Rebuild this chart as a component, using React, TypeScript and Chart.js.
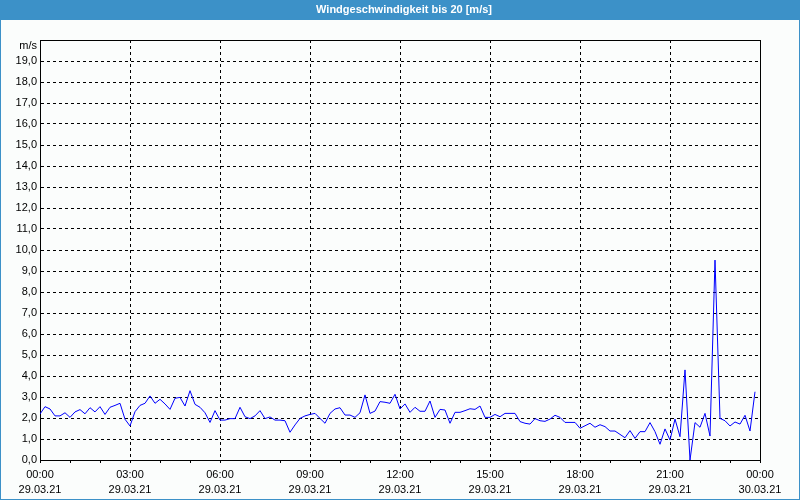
import React, { useEffect, useRef } from 'react';
import { Chart, registerables } from 'chart.js';

Chart.register(...registerables);

const AXIS_FONT = "'Liberation Sans Narrow', 'Liberation Sans', sans-serif";
const TITLE_FONT = "'Liberation Sans', sans-serif";

const chartTitle = 'Windgeschwindigkeit bis 20 [m/s]';
const unitLabel = 'm/s';
const intervalMinutes = 10;

// Wind speed in m/s, one value every 10 minutes from 29.03.21 00:00 to 23:50
const windSpeed = [
  2.19, 2.54, 2.43, 2.1, 2.1, 2.25, 2.03, 2.29, 2.4, 2.2, 2.49, 2.29,
  2.54, 2.17, 2.51, 2.6, 2.7, 1.94, 1.62, 2.3, 2.6, 2.7, 3.05, 2.7,
  2.89, 2.67, 2.41, 2.94, 2.98, 2.57, 3.3, 2.65, 2.51, 2.25, 1.79, 2.35,
  1.9, 1.9, 1.97, 1.97, 2.51, 2.06, 1.97, 2.1, 2.35, 1.97, 2.05, 1.9,
  1.9, 1.87, 1.32, 1.67, 1.98, 2.1, 2.17, 2.22, 1.98, 1.75, 2.22, 2.43,
  2.49, 2.14, 2.14, 2.03, 2.25, 3.1, 2.22, 2.33, 2.78, 2.75, 2.7, 3.13,
  2.43, 2.67, 2.27, 2.51, 2.32, 2.32, 2.81, 2.03, 2.41, 2.38, 1.75, 2.27,
  2.27, 2.35, 2.44, 2.41, 2.57, 2.03, 2.03, 2.17, 2.06, 2.22, 2.22, 2.22,
  1.83, 1.75, 1.71, 1.97, 1.87, 1.84, 1.95, 2.13, 2.03, 1.79, 1.79, 1.79,
  1.51, 1.63, 1.75, 1.56, 1.68, 1.59, 1.38, 1.38, 1.22, 1.06, 1.4, 1.03,
  1.35, 1.35, 1.78, 1.35, 0.75, 1.48, 0.95, 1.95, 1.11, 4.29, 0.0, 1.78,
  1.56, 2.22, 1.14, 9.52, 1.98, 1.87, 1.62, 1.81, 1.71, 2.13, 1.38, 3.25,
];

const timeLabels = ['00:00', '03:00', '06:00', '09:00', '12:00', '15:00', '18:00', '21:00', '00:00'];
const dateLabels = ['29.03.21', '29.03.21', '29.03.21', '29.03.21', '29.03.21', '29.03.21', '29.03.21', '29.03.21', '30.03.21'];
const labelEveryMinutes = 180;
const minorTickMinutes = 60;
const xMinMinutes = 0;
const xMaxMinutes = 1440;
const yMin = 0;
const yMax = 20;
const yStep = 1;

export default function App() {
  const ref = useRef<HTMLCanvasElement>(null);

  useEffect(() => {
    document.body.style.margin = '0';
    const canvas = ref.current;
    if (!canvas) return;

    const framePlugin = {
      id: 'frame',
      beforeDraw(chart: any) {
        const ctx = chart.ctx as CanvasRenderingContext2D;
        const w = chart.width;
        const h = chart.height;
        ctx.save();
        ctx.fillStyle = '#fbfdfc';
        ctx.fillRect(0, 0, w, h);
        ctx.fillStyle = '#3c91c8';
        ctx.fillRect(0, 0, w, 20);
        ctx.strokeStyle = '#3c91c8';
        ctx.lineWidth = 1;
        ctx.strokeRect(0.5, 0.5, w - 1, h - 1);
        ctx.fillStyle = '#ffffff';
        ctx.font = `bold 11px ${TITLE_FONT}`;
        ctx.textAlign = 'center';
        ctx.textBaseline = 'middle';
        ctx.fillText(chartTitle, w / 2 + 4, 10);
        ctx.restore();
      },
      afterDraw(chart: any) {
        const ctx = chart.ctx as CanvasRenderingContext2D;
        const { left, right, top, bottom } = chart.chartArea;
        ctx.save();
        ctx.strokeStyle = '#000000';
        ctx.lineWidth = 1;
        ctx.setLineDash([]);
        ctx.beginPath();
        ctx.moveTo(Math.round(left), Math.round(top) + 0.5);
        ctx.lineTo(Math.round(right) + 1, Math.round(top) + 0.5);
        ctx.moveTo(Math.round(right) + 0.5, Math.round(top));
        ctx.lineTo(Math.round(right) + 0.5, Math.round(bottom) + 1);
        ctx.stroke();
        ctx.fillStyle = '#000000';
        ctx.font = `11px ${AXIS_FONT}`;
        ctx.textAlign = 'right';
        ctx.textBaseline = 'middle';
        ctx.fillText(unitLabel, Math.round(left) - 3, Math.round(top) + 6);
        ctx.restore();
      },
    };

    const chart = new Chart(canvas, {
      type: 'line',
      data: {
        datasets: [
          {
            data: windSpeed.map((v, i) => ({ x: i * intervalMinutes, y: v })),
            borderColor: '#0000ff',
            borderWidth: 1,
            pointRadius: 0,
            tension: 0,
            fill: false,
          },
        ],
      },
      options: {
        animation: false,
        responsive: false,
        devicePixelRatio: 1,
        events: [],
        layout: { padding: { top: 40, right: 40, left: 0, bottom: 0 } },
        plugins: {
          legend: { display: false },
          title: { display: false },
          tooltip: { enabled: false },
        },
        scales: {
          x: {
            type: 'linear',
            min: xMinMinutes,
            max: xMaxMinutes,
            afterFit(scale: any) {
              scale.height = 40;
            },
            border: { display: true, color: '#000000', width: 1, dash: [3, 3] },
            grid: {
              color: (c: any) => {
                const v = c.tick ? c.tick.value : -1;
                return v % labelEveryMinutes === 0 && v > xMinMinutes && v < xMaxMinutes ? '#000000' : 'rgba(0,0,0,0)';
              },
              lineWidth: 1,
              drawTicks: true,
              tickLength: 3,
              tickColor: '#000000',
              tickBorderDash: [],
            },
            ticks: {
              stepSize: minorTickMinutes,
              autoSkip: false,
              maxRotation: 0,
              minRotation: 0,
              padding: 5,
              color: '#000000',
              font: { family: AXIS_FONT, size: 11, lineHeight: 1.35 },
              callback: (value: any) => {
                const v = Number(value);
                if (v % labelEveryMinutes !== 0) return '';
                const idx = Math.round(v / labelEveryMinutes);
                return [timeLabels[idx], dateLabels[idx]];
              },
            },
          },
          y: {
            type: 'linear',
            min: yMin,
            max: yMax,
            afterFit(scale: any) {
              scale.width = 40;
            },
            border: { display: true, color: '#000000', width: 1, dash: [3, 3] },
            grid: {
              color: (c: any) => {
                const v = c.tick ? c.tick.value : -1;
                return v > yMin && v < yMax ? '#000000' : 'rgba(0,0,0,0)';
              },
              lineWidth: 1,
              drawTicks: false,
            },
            ticks: {
              stepSize: yStep,
              autoSkip: false,
              padding: 3,
              color: '#000000',
              font: { family: AXIS_FONT, size: 11 },
              callback: (value: any) => {
                const v = Number(value);
                if (v === yMax) return '';
                return v.toFixed(1).replace('.', ',');
              },
            },
          },
        },
      },
      plugins: [framePlugin],
    });

    return () => {
      chart.destroy();
    };
  }, []);

  return (
    <div style={{ position: 'fixed', left: 0, top: 0, width: 800, height: 500 }}>
      <canvas ref={ref} width={800} height={500} style={{ display: 'block', width: 800, height: 500 }} />
    </div>
  );
}
